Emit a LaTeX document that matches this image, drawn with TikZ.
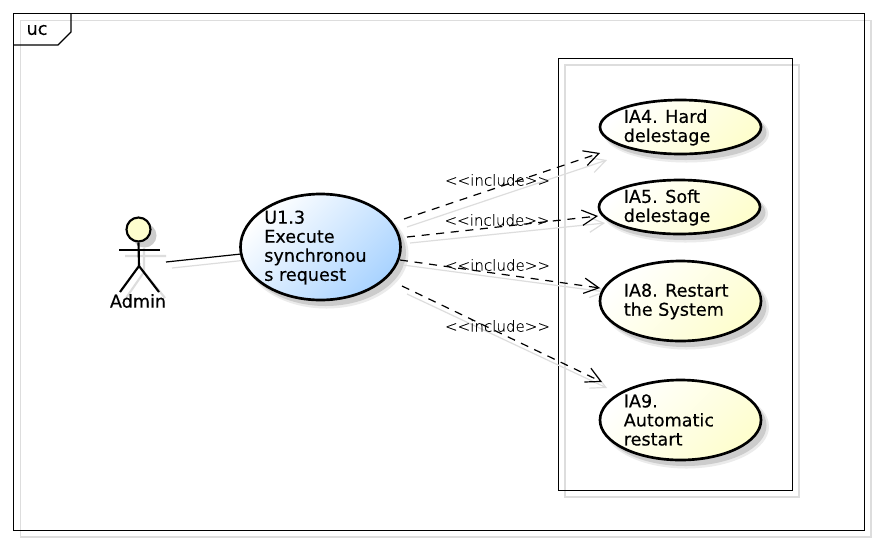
\documentclass[tikz,border=0pt]{standalone}
\usepackage{fontspec}
\setmainfont[FakeBold=0.25]{DejaVu Sans}
\newfontfamily\boldishfont[FakeBold=0.35]{DejaVu Sans}
\newfontfamily\thinfont[FakeBold=0.12]{DejaVu Sans ExtraLight}
\usetikzlibrary{shapes.geometric,arrows.meta}
\definecolor{shadowgray}{HTML}{DDDDDD}
\definecolor{ucyellow}{HTML}{FEFECE}
\definecolor{ucblue}{HTML}{A9D3FF}
\tikzset{
  frameline/.style={draw=black,line width=0.85pt},
  frameshadow/.style={draw=shadowgray,line width=0.85pt},
  usecase/.style={ellipse,draw=black,line width=2pt,inner sep=0pt,top color=white,bottom color=ucyellow,shading angle=45},
  bluecase/.style={usecase,top color=white,bottom color=ucblue,shading angle=45},
  casetext/.style={anchor=west,align=left,inner sep=0pt,font=\boldishfont\fontsize{13.2}{14.3}\selectfont},
  inclabel/.style={inner sep=0pt,font=\thinfont\fontsize{11.3}{12}\selectfont},
  incl/.style={black,line width=0.9pt,dash pattern=on 6pt off 5pt,-{Straight Barb[length=11pt,width=11.5pt,line width=0.9pt]}},
  inclshadow/.style={shadowgray,line width=0.9pt,-{Straight Barb[length=11pt,width=11.5pt,line width=0.9pt]}},
  stick/.style={draw=black,line width=1.6pt},
  stickshadow/.style={draw=shadowgray,line width=1.6pt}
}
\newcommand{\softshadow}[4]{%
  \fill[black!8] (#1+6,#2+6.5) ellipse ({(#3+2)*1pt*0.75} and {(#4+2)*1pt*0.75});
  \fill[black!20] (#1+5,#2+5.5) ellipse ({(#3+0.5)*1pt*0.75} and {(#4+0.5)*1pt*0.75});
}
\begin{document}
\begin{tikzpicture}[x=0.75pt,y=-0.75pt]
\useasboundingbox (0,0) rectangle (877,544);
\fill[white] (0,0) rectangle (877,544);
% frame
\draw[frameshadow] (20.5,20.5) rectangle (871,537);
\draw[frameline] (13.5,13.5) rectangle (864.5,530.5);
\draw[frameline] (13.5,45) -- (58,45) -- (71,32) -- (71,13.5);
\node[inner sep=0pt,font=\boldishfont\fontsize{13.2}{14}\selectfont] (uc) at (37,30) {uc};
% boundary
\draw[frameshadow] (565,65) rectangle (799,497);
\draw[frameline] (558.5,58.5) rectangle (792.5,490.5);
% soft shadows
\softshadow{320.5}{247}{80}{53}
\softshadow{680.5}{127}{80.5}{27}
\softshadow{679.5}{207}{80.5}{27}
\softshadow{680.5}{301}{80.5}{40}
\softshadow{680.5}{420}{80.5}{40}
% actor shadow
\fill[black!20] (144.5,235.5) circle (12*0.75pt);
\draw[stickshadow] (144,248) -- (144,272) (125,256) -- (166,256) (126,298) -- (144,272) -- (165,298);
% connector shadows
\coordinate (s0a) at (172,268); \coordinate (s0b) at (247,260);
\coordinate (s1a) at (407,227); \coordinate (s1b) at (607,160);
\coordinate (s2a) at (410,243); \coordinate (s2b) at (605,223);
\coordinate (s3a) at (403,265); \coordinate (s3b) at (606,292);
\coordinate (s4a) at (407,294); \coordinate (s4b) at (607,388);
\draw[shadowgray,line width=0.9pt] (s0a) -- (s0b);
\draw[inclshadow] (s1a) -- (s1b);
\draw[inclshadow] (s2a) -- (s2b);
\draw[inclshadow] (s3a) -- (s3b);
\draw[inclshadow] (s4a) -- (s4b);
% use cases
\node[bluecase,minimum width=160*0.75pt,minimum height=106*0.75pt] (u13) at (320.5,247) {};
\node[usecase,minimum width=161*0.75pt,minimum height=54*0.75pt] (ia4) at (680.5,127) {};
\node[usecase,minimum width=161*0.75pt,minimum height=54*0.75pt] (ia5) at (679.5,207) {};
\node[usecase,minimum width=161*0.75pt,minimum height=80*0.75pt] (ia8) at (680.5,301) {};
\node[usecase,minimum width=161*0.75pt,minimum height=80*0.75pt] (ia9) at (680.5,420) {};
\node[casetext] (t13) at (264,247.5) {U1.3\\Execute\\synchronou\\s request};
\node[casetext] (t4) at (623.5,127.5) {IA4. Hard\\delestage};
\node[casetext] (t5) at (623.5,207.5) {IA5. Soft\\delestage};
\node[casetext] (t8) at (623.5,301.5) {IA8. Restart\\the System};
\node[casetext] (t9) at (623.5,420) {IA9.\\Automatic\\restart};
% actor
\node[circle,draw=black,line width=1.6pt,fill=ucyellow,minimum size=24*0.75pt,inner sep=0pt] (head) at (138.5,229.5) {};
\coordinate (hip) at (139,266);
\coordinate (armL) at (119,250); \coordinate (armR) at (160,250);
\coordinate (legL) at (120,292); \coordinate (legR) at (159,292);
\draw[stick] (head.south) -- (hip);
\draw[stick] (armL) -- (armR);
\draw[stick] (legL) -- (hip) -- (legR);
\node[inner sep=0pt,font=\boldishfont\fontsize{13.2}{14}\selectfont] (admin) at (138,301) {Admin};
% connectors
\coordinate (c0a) at (166,262); \coordinate (c0b) at (241,254);
\coordinate (c1a) at (404,219); \coordinate (c1b) at (600,153);
\coordinate (c2a) at (407,237); \coordinate (c2b) at (598,216);
\coordinate (c3a) at (400,260); \coordinate (c3b) at (600,288);
\coordinate (c4a) at (402,286); \coordinate (c4b) at (602,382);
\draw[black,line width=0.9pt] (c0a) -- (c0b);
\draw[incl] (c1a) -- (c1b);
\draw[incl] (c2a) -- (c2b);
\draw[incl] (c3a) -- (c3b);
\draw[incl] (c4a) -- (c4b);
\node[inclabel] (l1) at (497.5,180) {<{}<include>{}>};
\node[inclabel] (l2) at (497,220) {<{}<include>{}>};
\node[inclabel] (l3) at (497.5,265) {<{}<include>{}>};
\node[inclabel] (l4) at (497.5,326) {<{}<include>{}>};
\end{tikzpicture}
\end{document}
